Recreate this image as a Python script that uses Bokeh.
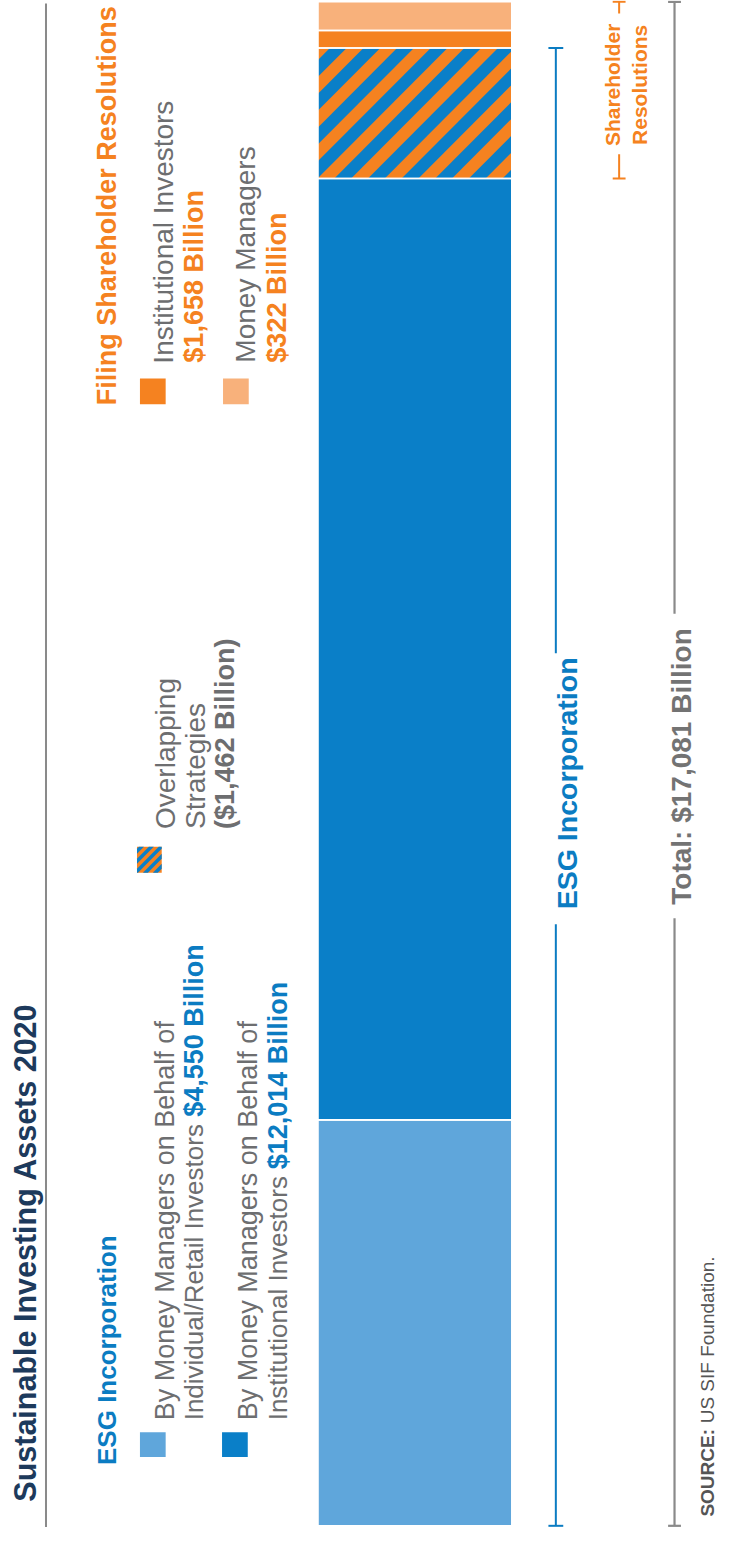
import math
from bokeh.plotting import figure
from bokeh.models import Range1d
from bokeh.core.properties import value
from bokeh.embed import file_html
from bokeh.resources import INLINE

# ---------------- data (US$ billions) ----------------
esg_categories = ["Individual/Retail Investors", "Institutional Investors"]
esg_values = [4550, 12014]
resolution_categories = ["Institutional Investors", "Money Managers"]
resolution_values = [1658, 322]
overlap_value = 1462
total_value = 17081

seg_names = ["Retail ESG", "Institutional ESG only", "Overlapping",
             "Institutional resolutions only", "Money Manager resolutions"]
seg_values = [esg_values[0], esg_values[1] - overlap_value, overlap_value,
              resolution_values[0] - overlap_value, resolution_values[1]]

# ---------------- styles ----------------
LIGHT_BLUE = "#5fa6db"
DARK_BLUE = "#0a7fc8"
TEXT_BLUE = "#0b7cc2"
ORANGE = "#f58220"
LIGHT_ORANGE = "#f8b17b"
GRAY_TEXT = "#6d6e70"
GRAY_LINE = "#8a8a8a"
NAVY = "#1d3a5c"
FONT = "Liberation Sans"

W, H = 721, 1527
p = figure(width=W, height=H, output_backend="svg", toolbar_location=None,
           x_range=Range1d(4, 733), y_range=Range1d(2, 1541),
           x_axis_type=None, y_axis_type=None, min_border=0)
p.outline_line_color = None
p.background_fill_color = "white"
p.border_fill_color = "white"


def Y(img_y):
    return 1543 - img_y


# value range for the stacked bar: 0 at image y 1539.3, top of stack at 3.3
stack_total = sum(seg_values)
bar_bottom_px, bar_top_px = 1539.3, 3.3
k = (bar_bottom_px - bar_top_px) / stack_total
p.extra_y_ranges = {"val": Range1d((bar_bottom_px - 1541) / k,
                                   (bar_bottom_px - 2) / k)}

bottoms, tops = [], []
acc = 0
for v in seg_values:
    bottoms.append(acc)
    acc += v
    tops.append(acc)

seg_colors = [LIGHT_BLUE, DARK_BLUE, ORANGE, ORANGE, LIGHT_ORANGE]
BAR_L, BAR_R = 325, 521
p.quad(left=[BAR_L] * len(seg_values), right=[BAR_R] * len(seg_values),
       bottom=bottoms, top=tops, fill_color=seg_colors, line_color=None,
       y_range_name="val")


# ---- diagonal stripes (pattern for the overlap) ----
def clip(poly, L, R, T, B):
    def cut(pts, inside, inter):
        out = []
        n = len(pts)
        for i in range(n):
            a, b = pts[i], pts[(i + 1) % n]
            ia, ib = inside(a), inside(b)
            if ia:
                out.append(a)
            if ia != ib:
                out.append(inter(a, b))
        return out

    def ix(a, b, x):
        t = (x - a[0]) / (b[0] - a[0])
        return (x, a[1] + t * (b[1] - a[1]))

    def iy(a, b, y):
        t = (y - a[1]) / (b[1] - a[1])
        return (a[0] + t * (b[0] - a[0]), y)

    pts = poly
    pts = cut(pts, lambda q: q[0] >= L, lambda a, b: ix(a, b, L)) if pts else pts
    pts = cut(pts, lambda q: q[0] <= R, lambda a, b: ix(a, b, R)) if pts else pts
    pts = cut(pts, lambda q: q[1] >= T, lambda a, b: iy(a, b, T)) if pts else pts
    pts = cut(pts, lambda q: q[1] <= B, lambda a, b: iy(a, b, B)) if pts else pts
    return pts


def stripes(L, R, T, B, period, phase, color):
    xs, ys = [], []
    s = L + T - period + phase
    while s < R + B:
        s0, s1 = s, s + period / 2
        band = [(L - 50, s0 - (L - 50)), (R + 50, s0 - (R + 50)),
                (R + 50, s1 - (R + 50)), (L - 50, s1 - (L - 50))]
        c = clip(band, L, R, T, B)
        if len(c) >= 3:
            xs.append([q[0] for q in c])
            ys.append([Y(q[1]) for q in c])
        s += period
    p.patches(xs=xs, ys=ys, fill_color=color, line_color=None)


ov_top_px = bar_bottom_px - tops[2] * k
ov_bot_px = bar_bottom_px - bottoms[2] * k
stripes(BAR_L, BAR_R, ov_top_px, ov_bot_px, 34, 12, DARK_BLUE)

# white separators between stacked segments
p.quad(left=[BAR_L] * len(seg_values), right=[BAR_R] * len(seg_values),
       bottom=bottoms, top=tops, fill_color=None, line_color="white",
       line_width=1.6, y_range_name="val")

# ---------------- left rule ----------------
p.segment(x0=[50], x1=[50], y0=[Y(5)], y1=[Y(1543)], line_color=GRAY_LINE, line_width=2)


def txt(x, y, s, size, color, bold=False, align="left"):
    p.text(x=[x], y=[Y(y)], text=[s], angle=math.pi / 2, text_align=align,
           text_baseline="alphabetic", text_font=value(FONT),
           text_font_size=f"{size}px",
           text_font_style="bold" if bold else "normal", text_color=color)


# ---------------- title & headers ----------------
txt(29, 1515, "Sustainable Investing Assets 2020", 30.5, NAVY, bold=True)
txt(112, 1478, "ESG Incorporation", 26, TEXT_BLUE, bold=True)
txt(112, 410, "Filing Shareholder Resolutions", 27, ORANGE, bold=True)


# ---------------- legend squares ----------------
def square(x0, x1, y0, y1, color, hatch=False):
    p.quad(left=[x0], right=[x1], bottom=[Y(y1)], top=[Y(y0)], fill_color=color,
           line_color=None)
    if hatch:
        stripes(x0, x1, y0, y1, 10, 2, DARK_BLUE)


square(145, 171, 1445, 1470, LIGHT_BLUE)
square(228, 254, 1445, 1470, DARK_BLUE)
square(142, 167, 855, 881, ORANGE, hatch=True)
square(145, 171, 383, 409, ORANGE)
square(229, 255, 383, 409, LIGHT_ORANGE)

# ---------------- legend texts ----------------
txt(170.5, 1433, "By Money Managers on Behalf of", 27, GRAY_TEXT)
txt(200, 1433, esg_categories[0], 26, GRAY_TEXT)
txt(200, 1127, f"${esg_values[0]:,} Billion", 27, TEXT_BLUE, bold=True)
txt(254, 1433, "By Money Managers on Behalf of", 27, GRAY_TEXT)
txt(285, 1433, esg_categories[1], 26, GRAY_TEXT)
txt(285, 1180, f"${esg_values[1]:,} Billion", 27, TEXT_BLUE, bold=True)

txt(171, 837, "Overlapping", 28, GRAY_TEXT)
txt(201, 837, "Strategies", 28, GRAY_TEXT)
txt(231, 837, f"(${overlap_value:,} Billion)", 27, GRAY_TEXT, bold=True)

txt(169, 368, resolution_categories[0], 28, GRAY_TEXT)
txt(200, 367, f"${resolution_values[0]:,} Billion", 27, ORANGE, bold=True)
txt(252, 367, resolution_categories[1], 28, GRAY_TEXT)
txt(284, 367, f"${resolution_values[1]:,} Billion", 27, ORANGE, bold=True)

# ---------------- brackets ----------------
esg_top = esg_values[0] + esg_values[1]
res_bottom = esg_top - overlap_value


def bracket(x, x0, x1, v0, v1, color, gap, width=2):
    p.segment(x0=[x], x1=[x], y0=[v0], y1=[v1], line_color=color,
              line_width=width, y_range_name="val")
    p.segment(x0=[x0, x0], x1=[x1, x1], y0=[v0, v1], y1=[v0, v1],
              line_color=color, line_width=width, y_range_name="val")
    p.quad(left=[x - 4], right=[x + 4], bottom=[Y(gap[1])], top=[Y(gap[0])],
           fill_color="white", line_color=None)


bracket(565.5, 558, 573, 0, esg_top, TEXT_BLUE, (660, 933))
txt(577, 791, "ESG Incorporation", 28.5, TEXT_BLUE, bold=True, align="center")

bracket(629.5, 623, 636, res_bottom, stack_total, ORANGE, (15, 157))
txt(623, 87, "Shareholder", 21, ORANGE, bold=True, align="center")
txt(650, 87, "Resolutions", 21, ORANGE, bold=True, align="center")

bracket(685.5, 679, 692, 0, total_value, GRAY_LINE, (620, 927), width=2.2)
txt(693, 774, f"Total: ${total_value:,} Billion", 28, "#737373", bold=True, align="center")

# ---------------- source ----------------
txt(719, 1530, "SOURCE:", 19, "#555555", bold=True)
txt(719, 1436, "US SIF Foundation.", 19, "#555555")

open("out.html", "w").write(file_html(p, INLINE))
